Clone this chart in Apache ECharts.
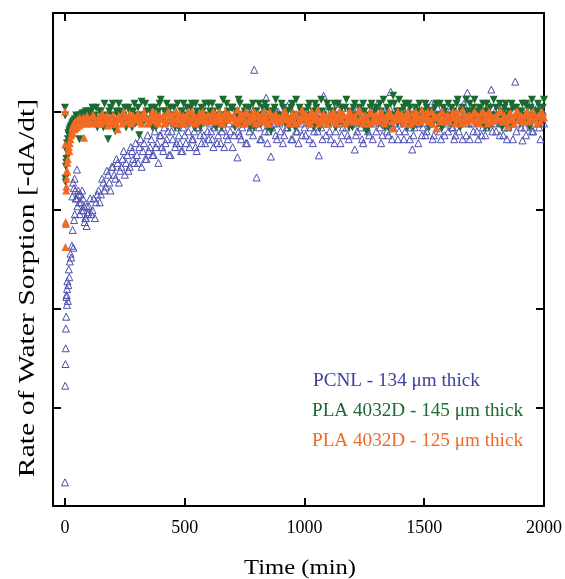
<!DOCTYPE html>
<html>
<head>
<meta charset="utf-8">
<title>Rate of Water Sorption</title>
<script src="https://cdn.jsdelivr.net/npm/echarts@6/dist/echarts.min.js"></script>
<style>
  html, body { margin: 0; padding: 0; background: #fff; }
  #chart { width: 565px; height: 579px; }
</style>
</head>
<body>
<div id="chart"></div>
<script>
// sampling times (min), first pass
const timeMin = [
  0, 1, 2, 3, 4, 5, 6, 7, 8, 9, 10, 12, 14, 16, 18, 20, 23, 26, 29, 32, 35, 38, 41,
  45, 50, 55, 60, 65, 70, 75, 80, 85, 90, 95,
  100, 110, 120, 130, 140, 150, 160, 170, 180, 190,
  200, 210, 220, 230, 240, 250, 260, 270, 280, 290,
  300, 310, 320, 330, 340, 350, 360, 370, 380, 390,
  400, 410, 420, 430, 440, 450, 460, 470, 480, 490,
  500, 510, 520, 530, 540, 550, 560, 570, 580, 590,
  600, 610, 620, 630, 640, 650, 660, 670, 680, 690,
  700, 710, 720, 730, 740, 750, 760, 770, 780, 790,
  800, 810, 820, 830, 840, 850, 860, 870, 880, 890,
  900, 910, 920, 930, 940, 950, 960, 970, 980, 990,
  1000, 1010, 1020, 1030, 1040, 1050, 1060, 1070, 1080, 1090,
  1100, 1110, 1120, 1130, 1140, 1150, 1160, 1170, 1180, 1190,
  1200, 1210, 1220, 1230, 1240, 1250, 1260, 1270, 1280, 1290,
  1300, 1310, 1320, 1330, 1340, 1350, 1360, 1370, 1380, 1390,
  1400, 1410, 1420, 1430, 1440, 1450, 1460, 1470, 1480, 1490,
  1500, 1510, 1520, 1530, 1540, 1550, 1560, 1570, 1580, 1590,
  1600, 1610, 1620, 1630, 1640, 1650, 1660, 1670, 1680, 1690,
  1700, 1710, 1720, 1730, 1740, 1750, 1760, 1770, 1780, 1790,
  1800, 1810, 1820, 1830, 1840, 1850, 1860, 1870, 1880, 1890,
  1900, 1910, 1920, 1930, 1940, 1950, 1960, 1970, 1980, 1990,
  2000
];

// sampling times (min), second pass
const timeMinB = [
  31, 34, 37, 40, 43, 47, 52, 57, 62, 67, 72, 77, 82, 87, 92, 97,
  105, 115, 125, 135, 145, 155, 165, 175, 185, 195,
  205, 215, 225, 235, 245, 255, 265, 275, 285, 295,
  305, 315, 325, 335, 345, 355, 365, 375, 385, 395,
  405, 415, 425, 435, 445, 455, 465, 475, 485, 495,
  505, 515, 525, 535, 545, 555, 565, 575, 585, 595,
  605, 615, 625, 635, 645, 655, 665, 675, 685, 695,
  705, 715, 725, 735, 745, 755, 765, 775, 785, 795,
  805, 815, 825, 835, 845, 855, 865, 875, 885, 895,
  905, 915, 925, 935, 945, 955, 965, 975, 985, 995,
  1005, 1015, 1025, 1035, 1045, 1055, 1065, 1075, 1085, 1095,
  1105, 1115, 1125, 1135, 1145, 1155, 1165, 1175, 1185, 1195,
  1205, 1215, 1225, 1235, 1245, 1255, 1265, 1275, 1285, 1295,
  1305, 1315, 1325, 1335, 1345, 1355, 1365, 1375, 1385, 1395,
  1405, 1415, 1425, 1435, 1445, 1455, 1465, 1475, 1485, 1495,
  1505, 1515, 1525, 1535, 1545, 1555, 1565, 1575, 1585, 1595,
  1605, 1615, 1625, 1635, 1645, 1655, 1665, 1675, 1685, 1695,
  1705, 1715, 1725, 1735, 1745, 1755, 1765, 1775, 1785, 1795,
  1805, 1815, 1825, 1835, 1845, 1855, 1865, 1875, 1885, 1895,
  1905, 1915, 1925, 1935, 1945, 1955, 1965, 1975, 1985, 1995
];

// PCNL - 134 um
const pcnl = [
  0.06, 0.305, 0.36, 0.40, 0.45, 0.48, 0.53, 0.535, 0.51, 0.55, 0.57, 0.52, 0.56, 0.60, 0.58, 0.62,
  0.64, 0.63, 0.66, 0.70, 0.655, 0.725, 0.74,
  0.78, 0.853, 0.80, 0.77, 0.79, 0.75, 0.78, 0.76, 0.73, 0.71, 0.74,
  0.76, 0.74, 0.78, 0.77, 0.80, 0.79, 0.82, 0.81, 0.84, 0.80,
  0.86, 0.83, 0.87, 0.85, 0.88, 0.84, 0.89, 0.86, 0.90, 0.87,
  0.89, 0.91, 0.86, 0.92, 0.88, 0.90, 0.93, 0.89, 0.91, 0.87,
  0.94, 0.90, 0.92, 0.95, 0.89, 0.93, 0.91, 0.96, 0.92, 0.90,
  0.94, 0.97, 0.91, 0.93, 0.95, 0.90, 0.96, 0.92, 0.94, 0.98,
  0.93, 0.95, 0.91, 0.97, 0.94, 0.92, 0.96, 0.99, 0.93, 0.95,
  0.91, 0.97, 0.884, 0.94, 0.96, 1.00, 0.92, 0.95, 0.98, 1.106,
  0.833, 0.96, 0.93, 0.99, 1.035, 0.95, 0.886, 0.97, 0.94, 1.00,
  0.95, 0.92, 0.98, 0.96, 1.01, 0.93, 0.97, 0.95, 0.99, 0.94,
  0.96, 1.00, 0.93, 0.97, 0.95, 0.98, 0.889, 0.96, 1.04, 0.94,
  0.97, 0.93, 1.00, 0.95, 0.98, 0.92, 0.96, 1.01, 0.94, 0.97,
  0.99, 0.904, 0.95, 0.98, 0.93, 1.00, 0.96, 0.94, 1.02, 0.97,
  0.95, 0.98, 0.92, 0.97, 1.00, 0.94, 1.05, 0.96, 0.99, 0.93,
  0.97, 1.01, 0.95, 0.98, 0.93, 0.904, 0.96, 1.00, 0.97, 0.94,
  0.99, 0.95, 0.97, 1.02, 0.94, 0.98, 0.96, 0.93, 1.00, 0.97,
  0.95, 0.99, 0.96, 0.94, 1.01, 0.97, 0.93, 0.98, 1.048, 0.93,
  0.97, 1.00, 0.95, 0.98, 0.94, 0.99, 0.96, 1.02, 1.056, 0.97,
  0.95, 0.99, 0.97, 0.94, 1.00, 0.96, 0.98, 0.93, 1.076, 0.97,
  0.99, 0.927, 0.96, 1.00, 0.98, 0.95, 0.97, 1.01, 0.96, 0.98,
  0.97
];
const pcnlB = [
  0.785, 0.82, 0.806, 0.83, 0.80, 0.78, 0.76, 0.79, 0.74, 0.77, 0.80, 0.75, 0.72, 0.73, 0.76, 0.745,
  0.78, 0.75, 0.73, 0.79, 0.77, 0.83, 0.80, 0.85, 0.82, 0.86,
  0.84, 0.88, 0.82, 0.86, 0.90, 0.87, 0.85, 0.91, 0.88, 0.92,
  0.87, 0.93, 0.90, 0.88, 0.94, 0.91, 0.89, 0.95, 0.92, 0.94,
  0.91, 0.96, 0.93, 0.89, 0.95, 0.97, 0.92, 0.94, 0.90, 0.96,
  0.92, 0.95, 0.98, 0.93, 0.91, 0.96, 0.94, 0.99, 0.92, 0.95,
  0.97, 0.93, 0.96, 0.92, 0.98, 0.95, 0.91, 0.94, 0.97, 1.00,
  0.94, 0.99, 0.95, 0.93, 0.97, 0.92, 1.01, 0.96, 0.94, 0.98,
  0.97, 0.93, 1.00, 0.95, 0.92, 0.98, 0.96, 1.01, 0.93, 0.97,
  0.98, 0.94, 0.96, 1.02, 0.93, 0.99, 0.95, 0.92, 0.97, 1.00,
  0.94, 0.98, 0.96, 0.92, 1.01, 0.95, 0.99, 0.93, 0.97, 1.00,
  0.95, 0.99, 0.92, 0.97, 1.02, 0.94, 0.98, 0.96, 0.93, 1.00,
  0.97, 0.94, 1.01, 0.96, 0.92, 0.99, 0.95, 1.00, 0.93, 0.98,
  1.02, 0.96, 0.94, 0.99, 0.95, 1.01, 0.93, 0.97, 1.00, 0.95,
  0.98, 0.93, 0.99, 0.96, 1.01, 0.94, 0.97, 0.92, 1.00, 0.96,
  0.94, 1.00, 0.98, 0.93, 0.97, 1.01, 0.95, 0.99, 0.94, 0.98,
  1.00, 0.96, 0.93, 0.99, 0.95, 0.98, 1.02, 0.94, 0.97, 1.00,
  0.95, 0.98, 0.93, 1.01, 0.96, 0.94, 0.99, 0.97, 0.95, 1.00,
  0.98, 0.94, 1.01, 0.96, 0.93, 0.99, 0.97, 1.00, 0.95, 0.98,
  0.96, 1.00, 0.94, 0.98, 1.02, 0.95, 0.99, 0.97, 0.93, 1.00
];

// PLA 4032D - 145 um
const pla145 = [
  1.01, 0.99, 0.83, 0.82, 0.86, 0.87, 0.88, 0.90, 0.905, 0.92, 0.917, 0.93, 0.945, 0.94, 0.95, 0.955,
  0.96, 0.965, 0.96, 0.97, 0.975, 0.965, 0.98,
  0.975, 0.985, 0.97, 0.93, 0.985, 0.99, 0.98, 0.995, 0.985, 0.99, 1.00,
  0.99, 1.00, 0.97, 1.01, 0.98, 1.00, 0.96, 0.99, 0.93, 1.01,
  1.02, 0.95, 0.99, 1.00, 0.97, 1.01, 0.98, 1.00, 0.96, 1.02,
  0.99, 0.94, 1.025, 0.98, 1.00, 0.97, 1.01, 0.99, 0.96, 1.00,
  1.03, 0.98, 1.00, 0.97, 1.01, 0.99, 0.96, 1.02, 0.98, 1.00,
  0.97, 1.01, 0.99, 1.02, 0.96, 1.00, 0.98, 1.01, 0.97, 0.99,
  1.02, 0.98, 1.00, 0.96, 1.01, 0.99, 1.03, 0.97, 1.00, 0.98,
  1.01, 0.96, 0.99, 1.02, 0.98, 1.00, 0.97, 1.01, 0.99, 0.96,
  1.00, 1.02, 0.97, 0.99, 1.01, 0.98, 0.95, 1.00, 1.03, 0.98,
  0.99, 1.01, 0.97, 1.00, 0.98, 1.02, 0.96, 0.99, 1.01, 0.98,
  1.00, 0.97, 1.02, 0.99, 0.96, 1.01, 0.98, 1.03, 0.99, 0.97,
  1.01, 0.98, 1.00, 0.96, 1.02, 0.99, 0.97, 1.01, 0.98, 1.00,
  0.96, 1.02, 0.99, 1.01, 0.97, 1.00, 0.95, 0.98, 1.02, 0.99,
  1.01, 0.97, 1.00, 1.03, 0.98, 0.96, 1.02, 1.04, 0.99, 0.97,
  1.00, 0.98, 1.02, 0.96, 1.01, 0.99, 0.97, 1.00, 1.02, 0.98,
  0.99, 1.01, 0.96, 1.00, 0.98, 1.02, 0.97, 0.99, 1.01, 0.98,
  1.02, 0.97, 1.00, 0.99, 1.03, 0.96, 1.01, 0.98, 1.00, 1.02,
  0.98, 1.03, 0.99, 1.01, 0.97, 1.00, 1.02, 0.96, 0.99, 1.03,
  1.01, 0.97, 1.00, 0.98, 1.02, 0.99, 0.96, 1.01, 0.98, 1.00,
  0.97, 1.02, 0.99, 1.01, 0.96, 1.03, 0.98, 1.00, 0.99, 1.01,
  1.03
];
const pla145B = [
  0.97, 0.96, 0.975, 0.97, 0.98, 0.99, 0.975, 0.985, 0.99, 0.98, 0.995, 0.99, 0.985, 1.00, 0.98, 0.99,
  0.98, 1.01, 0.99, 0.96, 1.00, 0.98, 1.02, 0.97, 1.00, 0.99,
  0.97, 1.00, 1.02, 0.98, 0.99, 0.96, 1.01, 0.98, 1.00, 0.97,
  1.01, 0.99, 0.97, 1.02, 0.98, 1.00, 0.96, 1.01, 0.99, 1.02,
  0.98, 1.00, 1.02, 0.99, 0.97, 1.01, 0.98, 0.96, 1.00, 1.02,
  0.99, 0.97, 1.01, 0.98, 1.02, 0.99, 0.96, 1.00, 1.02, 0.98,
  1.00, 1.02, 0.97, 0.99, 1.01, 0.96, 0.99, 1.02, 0.98, 1.01,
  0.98, 1.00, 1.03, 0.97, 0.99, 1.01, 0.98, 0.96, 1.02, 1.00,
  0.97, 0.99, 1.01, 1.02, 0.96, 1.00, 0.98, 1.01, 0.99, 0.97,
  1.02, 0.98, 1.00, 0.96, 1.01, 0.99, 1.03, 0.97, 1.00, 0.98,
  0.99, 1.01, 0.97, 1.00, 1.02, 0.98, 0.96, 1.00, 0.98, 1.02,
  0.97, 1.00, 1.02, 0.99, 0.97, 1.01, 0.98, 1.03, 0.96, 0.99,
  1.01, 0.98, 0.97, 1.00, 1.02, 0.96, 0.99, 1.01, 0.97, 1.00,
  0.98, 1.02, 0.99, 0.96, 1.01, 0.99, 0.97, 1.02, 1.00, 1.03,
  0.97, 1.01, 0.99, 1.02, 0.98, 0.96, 1.01, 0.99, 0.97, 1.00,
  1.02, 0.98, 1.00, 0.97, 1.01, 0.99, 1.02, 0.96, 1.00, 0.98,
  0.99, 1.01, 0.97, 1.02, 0.98, 1.00, 0.99, 1.03, 0.97, 1.00,
  1.01, 0.97, 1.00, 0.98, 1.02, 0.96, 1.00, 1.01, 0.98, 0.99,
  0.98, 1.02, 0.96, 1.01, 0.99, 1.00, 1.02, 0.97, 1.01, 0.98,
  1.00, 0.98, 1.02, 0.97, 1.01, 0.99, 1.00, 1.02, 0.97, 1.01
];

// PLA 4032D - 125 um
const pla125 = [
  1.00, 0.917, 0.657, 0.72, 0.715, 0.80, 0.81, 0.83, 0.85, 0.848, 0.87, 0.88, 0.90, 0.91, 0.90, 0.92,
  0.93, 0.94, 0.95, 0.945, 0.955, 0.96, 0.955,
  0.965, 0.96, 0.97, 0.965, 0.97, 0.975, 0.97, 0.934, 0.975, 0.98, 0.97,
  0.98, 0.97, 0.99, 0.975, 0.985, 0.97, 0.99, 0.98, 0.965, 0.985,
  0.99, 0.975, 0.955, 0.985, 0.97, 0.99, 0.98, 0.995, 0.975, 0.985,
  0.98, 0.99, 0.97, 1.00, 0.985, 0.975, 0.99, 0.98, 0.995, 0.97,
  0.985, 0.99, 0.975, 1.00, 0.98, 0.99, 0.97, 0.985, 0.995, 0.98,
  0.97, 0.99, 0.98, 1.00, 0.985, 0.975, 0.995, 0.98, 0.99, 0.975,
  0.99, 0.98, 1.00, 0.975, 0.99, 0.985, 0.97, 1.00, 0.98, 0.99,
  0.985, 0.975, 1.005, 0.98, 0.99, 0.97, 0.995, 0.985, 0.98, 1.00,
  0.99, 0.975, 0.985, 1.00, 0.98, 0.97, 0.99, 0.985, 0.995, 0.98,
  0.975, 0.99, 1.00, 0.98, 0.985, 0.995, 0.97, 0.99, 0.98, 1.005,
  0.985, 0.975, 0.99, 1.00, 0.98, 0.99, 0.97, 0.985, 0.995, 0.98,
  0.99, 0.98, 1.00, 0.975, 0.99, 0.985, 0.995, 0.97, 0.98, 1.00,
  0.985, 0.99, 0.975, 1.005, 0.98, 0.99, 0.985, 0.97, 0.995, 0.98,
  0.99, 0.975, 1.00, 0.985, 0.98, 0.995, 0.99, 0.957, 0.98, 1.00,
  0.985, 0.99, 0.97, 1.00, 0.98, 0.995, 0.975, 0.99, 0.985, 1.005,
  0.98, 0.99, 0.975, 1.00, 0.985, 0.957, 0.99, 0.98, 0.995, 0.975,
  0.99, 0.985, 1.00, 0.97, 0.99, 0.98, 1.005, 0.985, 0.975, 0.99,
  0.98, 1.00, 0.985, 0.97, 0.995, 0.98, 0.99, 1.00, 0.975, 0.985,
  0.99, 0.98, 1.00, 0.985, 0.975, 0.965, 0.995, 0.98, 0.99, 1.00,
  0.985, 0.975, 0.99, 1.00, 0.98, 0.995, 0.985, 0.97, 0.99, 1.00,
  0.985
];
const pla125B = [
  0.96, 0.965, 0.97, 0.96, 0.975, 0.97, 0.98, 0.975, 0.985, 0.97, 0.98, 0.985, 0.975, 0.98, 0.99, 0.98,
  0.975, 0.99, 0.98, 0.97, 0.985, 0.995, 0.975, 0.99, 0.98, 0.97,
  0.985, 0.97, 0.99, 0.98, 1.00, 0.975, 0.985, 0.97, 0.99, 0.98,
  0.995, 0.975, 0.985, 0.99, 0.97, 0.98, 1.00, 0.985, 0.975, 0.99,
  0.98, 0.97, 0.995, 0.985, 0.99, 0.975, 1.00, 0.98, 0.97, 0.99,
  0.985, 1.00, 0.975, 0.99, 0.97, 0.98, 0.985, 1.00, 0.975, 0.99,
  0.975, 0.995, 0.985, 0.98, 1.00, 0.97, 0.99, 0.98, 0.995, 0.985,
  0.99, 0.98, 0.97, 0.995, 0.985, 1.00, 0.975, 0.99, 0.98, 0.97,
  0.995, 0.985, 0.975, 0.99, 0.97, 1.00, 0.98, 0.99, 0.975, 0.985,
  0.98, 1.00, 0.985, 0.97, 0.99, 0.98, 0.995, 0.975, 0.985, 0.99,
  0.995, 0.98, 0.97, 0.99, 0.985, 1.005, 0.975, 0.99, 0.98, 0.97,
  0.98, 0.995, 0.985, 0.97, 1.00, 0.98, 0.99, 0.975, 0.995, 0.985,
  0.975, 0.98, 1.00, 0.985, 0.97, 0.99, 0.98, 1.00, 0.975, 0.99,
  0.98, 0.995, 0.985, 0.97, 0.99, 1.00, 0.975, 0.985, 0.99, 0.98,
  0.995, 0.975, 0.99, 0.985, 0.97, 0.98, 1.00, 0.985, 0.975, 0.99,
  0.985, 1.00, 0.98, 0.97, 0.99, 0.985, 0.975, 1.00, 0.98, 0.99,
  0.975, 0.99, 0.985, 1.00, 0.98, 0.97, 0.995, 0.98, 0.99, 0.985,
  0.995, 0.975, 0.99, 0.98, 1.00, 0.985, 0.97, 0.99, 0.985, 0.98,
  0.985, 1.00, 0.975, 0.99, 0.98, 0.995, 0.985, 0.97, 1.00, 0.98,
  0.99, 0.98, 0.995, 0.975, 0.985, 1.00, 0.98, 0.99, 0.975, 0.995
];

const xTicks = [0, 500, 1000, 1500, 2000];
const seriesNames = ['PCNL - 134 μm thick', 'PLA 4032D - 145 μm thick', 'PLA 4032D - 125 μm thick'];

const BLUE = '#4a4eb0';
const GREEN = '#1b6a30';
const ORANGE = '#f26a24';
const FONT = '"Liberation Serif", "Times New Roman", serif';

function pairs(times, values) {
  return times.map((t, i) => [t, values[i]]);
}

const frameLine = { show: true, onZero: false, lineStyle: { color: '#000', width: 2 } };
const tickStyle = { color: '#000', width: 2 };

var myChart = echarts.init(document.getElementById('chart'));
myChart.setOption({
  animation: false,
  backgroundColor: '#fff',
  grid: { left: 53, right: 21, top: 13, bottom: 73 },
  xAxis: [
    {
      type: 'value',
      min: -50,
      max: 2000,
      position: 'bottom',
      axisLine: frameLine,
      axisTick: { show: true, inside: true, length: 8, customValues: xTicks, lineStyle: tickStyle },
      axisLabel: {
        show: true, customValues: xTicks, margin: 13, fontFamily: FONT, fontSize: 18, color: '#000',
        formatter: function (v) { return String(v); }
      },
      splitLine: { show: false }
    },
    {
      type: 'value',
      min: -50,
      max: 2000,
      position: 'top',
      axisLine: frameLine,
      axisTick: { show: true, inside: true, length: 8, customValues: xTicks, lineStyle: tickStyle },
      axisLabel: { show: false },
      splitLine: { show: false }
    }
  ],
  yAxis: [
    {
      type: 'value',
      min: 0,
      max: 1.25,
      interval: 0.25,
      position: 'left',
      axisLine: frameLine,
      axisTick: { show: true, inside: true, length: 8, lineStyle: tickStyle },
      axisLabel: { show: false },
      splitLine: { show: false }
    },
    {
      type: 'value',
      min: 0,
      max: 1.25,
      interval: 0.25,
      position: 'right',
      axisLine: frameLine,
      axisTick: { show: true, inside: true, length: 8, lineStyle: tickStyle },
      axisLabel: { show: false },
      splitLine: { show: false }
    }
  ],
  series: [
    {
      name: seriesNames[0],
      type: 'scatter',
      symbol: 'triangle',
      symbolSize: 7,
      data: pairs(timeMin, pcnl).concat(pairs(timeMinB, pcnlB)),
      itemStyle: { color: 'rgba(0,0,0,0)', borderColor: BLUE, borderWidth: 1, opacity: 1 }
    },
    {
      name: seriesNames[1],
      type: 'scatter',
      symbol: 'triangle',
      symbolRotate: 180,
      symbolSize: 8,
      data: pairs(timeMin, pla145).concat(pairs(timeMinB, pla145B)),
      itemStyle: { color: GREEN, opacity: 1 }
    },
    {
      name: seriesNames[2],
      type: 'scatter',
      symbol: 'triangle',
      symbolSize: 8,
      data: pairs(timeMin, pla125).concat(pairs(timeMinB, pla125B)),
      itemStyle: { color: ORANGE, opacity: 1 }
    }
  ],
  graphic: [
    {
      type: 'text', x: 28, y: 288, rotation: Math.PI / 2, scaleX: 1.29,
      style: { text: 'Rate of Water Sorption [-dA/dt]', fill: '#000', font: '23px ' + FONT, align: 'center', verticalAlign: 'middle' }
    },
    {
      type: 'text', x: 300, y: 568, scaleX: 1.12,
      style: { text: 'Time (min)', fill: '#000', font: '22px ' + FONT, align: 'center', verticalAlign: 'middle' }
    },
    { type: 'text', x: 313, y: 381, scaleX: 1.065, style: { text: seriesNames[0], fill: '#3c40a2', font: '18px ' + FONT, verticalAlign: 'middle' } },
    { type: 'text', x: 312, y: 411, scaleX: 1.065, style: { text: seriesNames[1], fill: GREEN, font: '18px ' + FONT, verticalAlign: 'middle' } },
    { type: 'text', x: 312, y: 441, scaleX: 1.065, style: { text: seriesNames[2], fill: ORANGE, font: '18px ' + FONT, verticalAlign: 'middle' } }
  ]
});
</script>
</body>
</html>
